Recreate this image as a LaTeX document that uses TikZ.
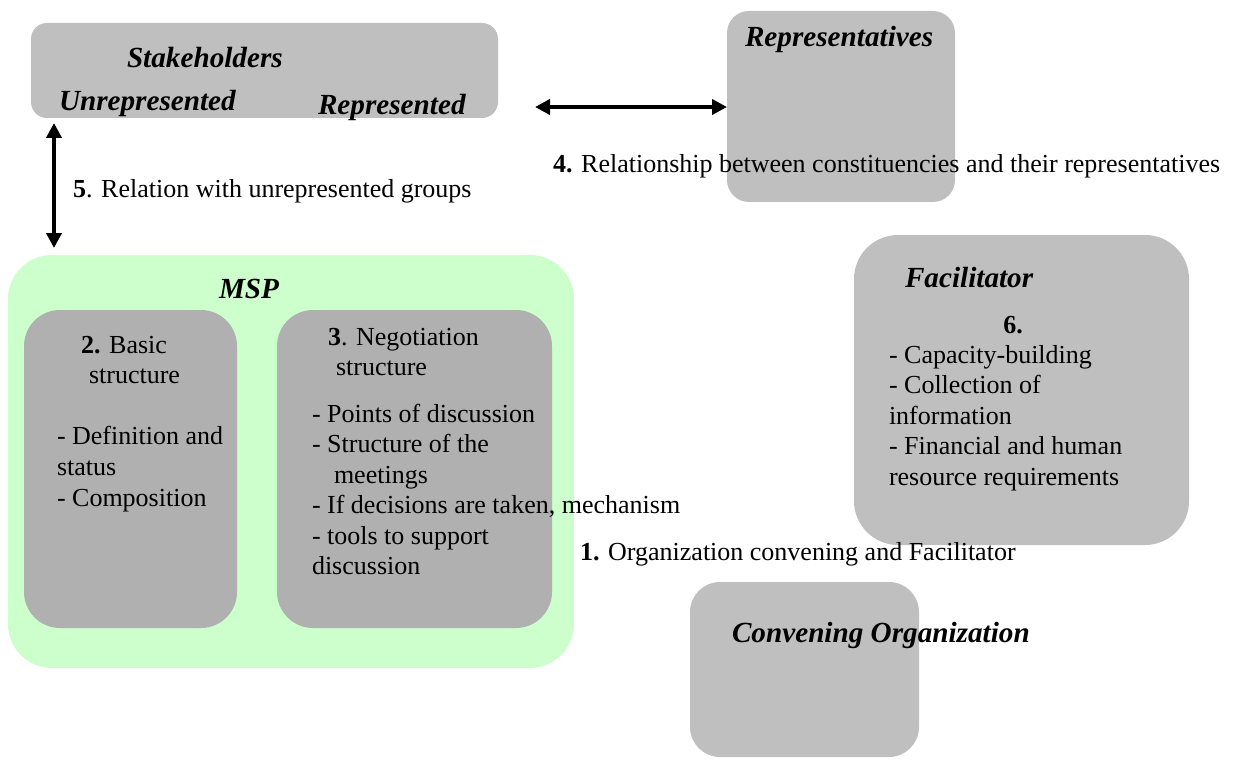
\documentclass[tikz,border=0pt]{standalone}
\usepackage{fontspec}
\setmainfont{Liberation Serif}
\usetikzlibrary{arrows.meta,fit}
\definecolor{boxgray}{HTML}{BFBFBF}
\definecolor{innergray}{HTML}{B0B0B0}
\definecolor{mspgreen}{HTML}{CCFFCC}
\newcommand\txtsize{\fontsize{13}{15}\selectfont}
\newcommand\headsize{\fontsize{14.6}{16}\selectfont}

\begin{document}
\begin{tikzpicture}[x=0.5pt, y=-0.5pt,
    every node/.style={inner sep=0pt, outer sep=0pt},
    graybox/.style={fill=boxgray, draw=none, rounded corners=#1},
    graybox/.default=15pt,
    txt/.style={anchor=base west, font=\txtsize},
    head/.style={anchor=base west, font=\headsize\bfseries\itshape},
    twoway/.style={line width=2pt, {Triangle[length=7.5pt,width=7.5pt]}-{Triangle[length=7.5pt,width=7.5pt]}}]
  \useasboundingbox (0,0) rectangle (1240,759);

  % boxes
  \node[graybox=8pt, fit={(31,23) (498,118)}] (stake) {};
  \node[graybox=11pt, fit={(727,11) (955,202)}] (repr) {};
  \node[graybox=22pt, fill=mspgreen, fit={(8,255) (574,668)}] (msp) {};
  \node[graybox=18pt, fill=innergray, fit={(24,310) (237,628)}] (basic) {};
  \node[graybox=18pt, fill=innergray, fit={(277,310) (552,628)}] (nego) {};
  \node[graybox=22pt, fit={(854,235) (1189,545)}] (facil) {};
  \node[graybox=15pt, fit={(690,582) (919,757)}] (conv) {};

  % headings
  \node[head] (tstake) at (127,68) {Stakeholders};
  \node[head] (tunrep) at (59,111) {Unrepresented};
  \node[head] (trep) at (318,115) {Represented};
  \node[head] (trepr) at (745,47) {Representatives};
  \node[head] (tmsp) at (219,298) {MSP};
  \node[head] (tfacil) at (905,287) {Facilitator};
  \node[head] (tconv) at (732,642) {Convening Organization};

  % relations
  \coordinate (a4) at (535,107);
  \draw[twoway] (a4) -- (a4 -| repr.west);
  \coordinate (a5t) at (54,123);
  \coordinate (a5b) at (54,248);
  \draw[twoway] (a5t) -- (a5b);
  \node[txt] (l4) at (553,173) {\textbf{4.} Relationship between constituencies and their representatives};
  \node[txt] (l5) at (73,198) {\textbf{5}. Relation with unrepresented groups};
  \node[txt] (l1) at (580,560) {\textbf{1.} Organization convening and Facilitator};

  % MSP contents
  \node[txt] (b1) at (81,353) {\textbf{2.} Basic};
  \node[txt] (b2) at (89,383) {structure};
  \foreach \y/\t [count=\i] in {444/{- Definition and}, 475/{status}, 506/{- Composition}}
    \node[txt] (bl\i) at (57,\y) {\t};
  \node[txt] (n1) at (328,345) {\textbf{3}. Negotiation};
  \node[txt] (n2) at (336,375) {structure};
  \foreach \x/\y/\t [count=\i] in {312/422/{- Points of discussion}, 312/452/{- Structure of the},
      334/483/{meetings}, 312/513/{- If decisions are taken, mechanism},
      312/544/{- tools to support}, 312/574/{discussion}}
    \node[txt] (nl\i) at (\x,\y) {\t};

  % Facilitator contents
  \node[txt, anchor=base] (f6) at (1013,333) {\textbf{6.}};
  \foreach \t [count=\i] in {{- Capacity-building}, {- Collection of}, {information},
      {- Financial and human}, {resource requirements}}
    \node[txt] (fl\i) at (889,{333+30.4*\i}) {\t};
\end{tikzpicture}
\end{document}
